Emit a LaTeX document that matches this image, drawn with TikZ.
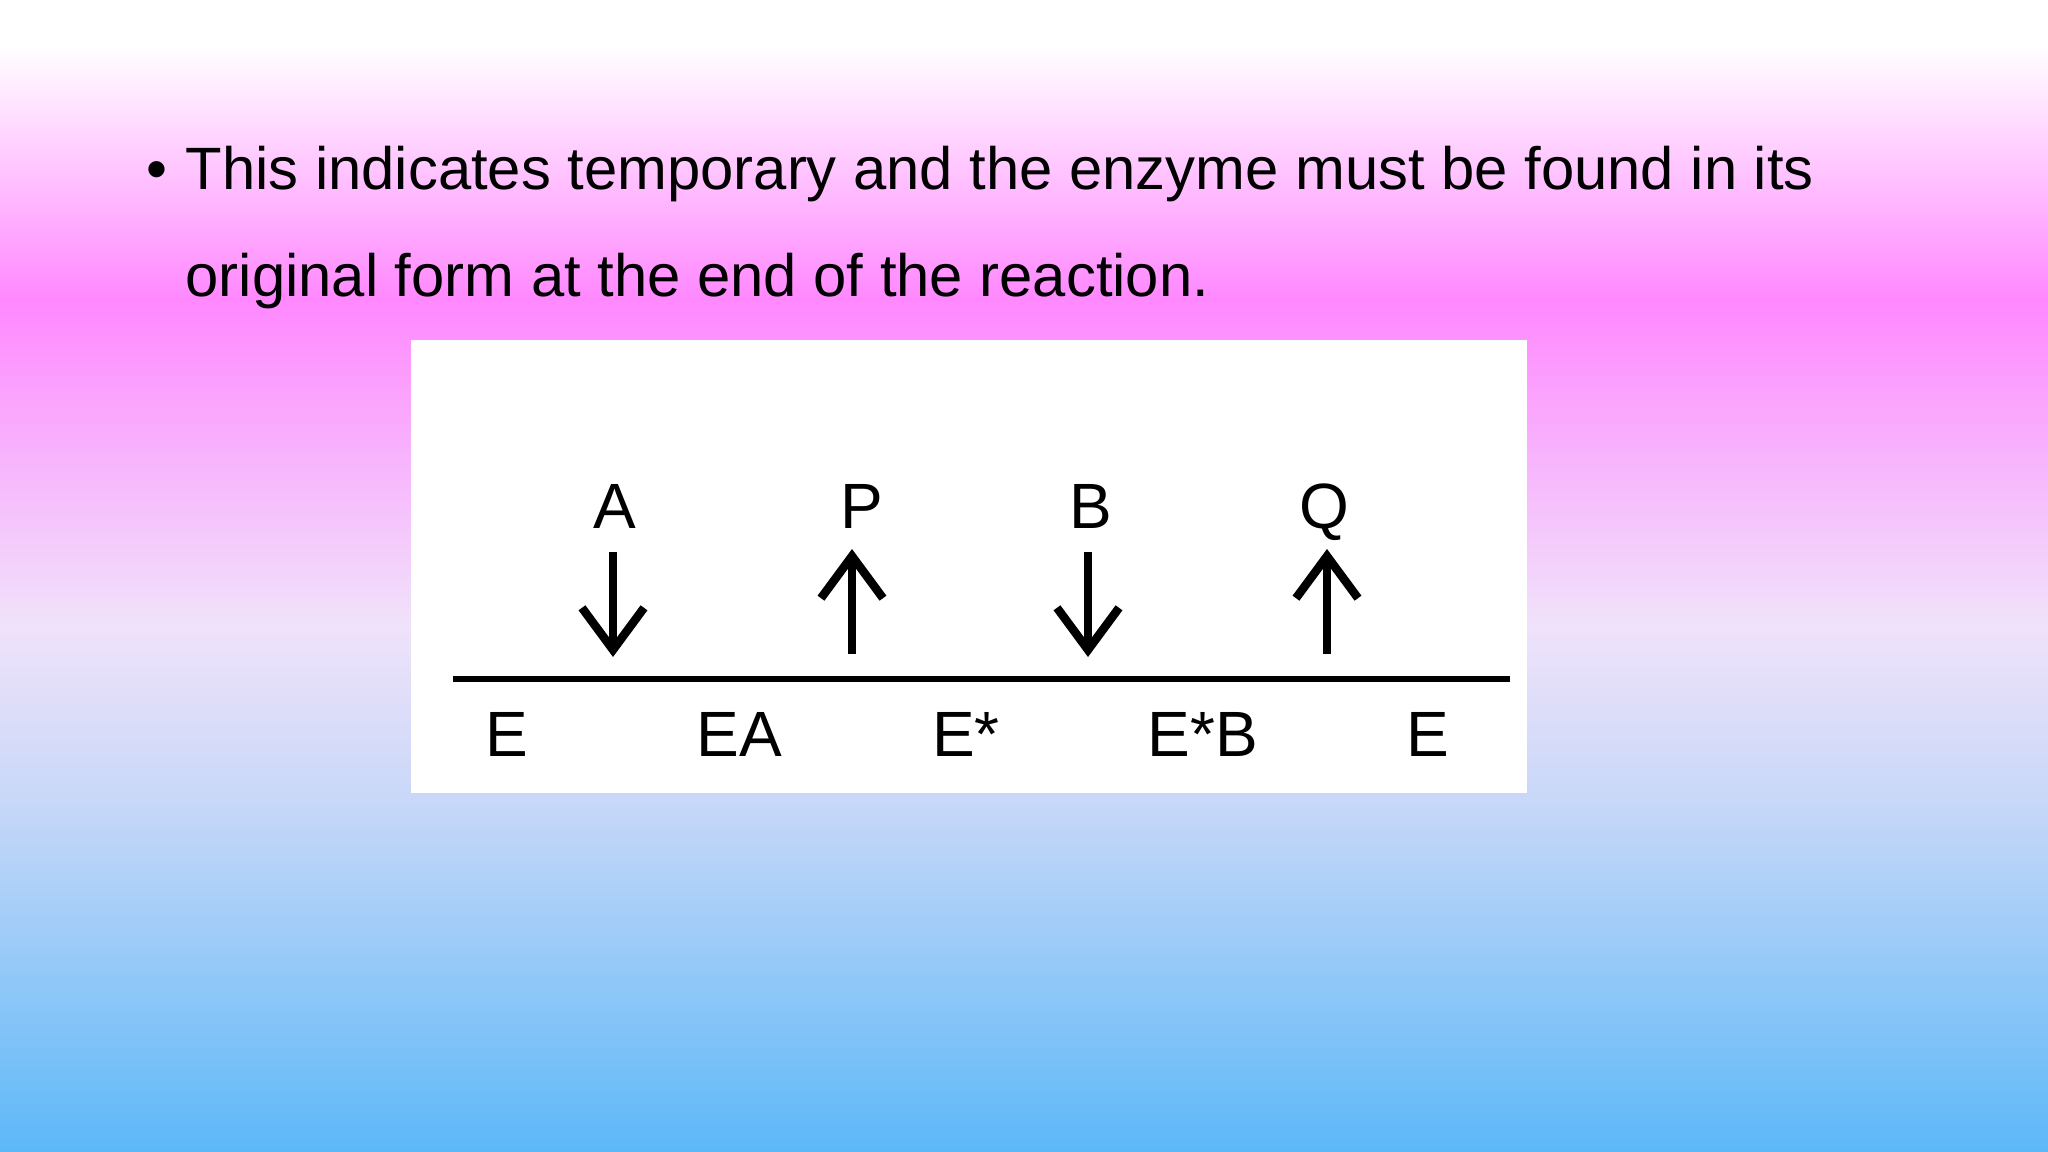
\documentclass[tikz,border=0pt]{standalone}
\usepackage{fontspec}
\setmainfont{Liberation Sans}
\usetikzlibrary{arrows.meta}
\definecolor{bgpink}{RGB}{255,136,255}
\definecolor{bglav}{RGB}{240,226,250}
\definecolor{bgpale}{RGB}{200,216,248}
\definecolor{bgblue}{RGB}{92,184,248}
\tikzset{
  slide/.style={inner sep=0pt, anchor=base west, font=\fontsize{17pt}{20pt}\selectfont},
  lbl/.style={inner sep=0pt, anchor=base, font=\fontsize{18.2pt}{20pt}\selectfont},
  rxn/.style={line width=0.085cm, -{Straight Barb[length=0.42cm,width=0.62cm]}},
}

\begin{document}
\begin{tikzpicture}[x=0.01cm,y=-0.01cm]
          %background
          \useasboundingbox (0,0) rectangle (2048,1152);
          \fill[white] (0,0) rectangle (2048,45);
          \shade[top color=white,bottom color=bgpink] (0,45) rectangle (2048,300);
          \shade[top color=bgpink,bottom color=bglav] (0,299) rectangle (2048,625);
          \shade[top color=bglav,bottom color=bgpale] (0,624) rectangle (2048,800);
          \shade[top color=bgpale,bottom color=bgblue] (0,799) rectangle (2048,1152);

          %bullet text
          \node[slide] (dot) at (146,190) {\textbullet};
          \node[slide] (line1) at (185,190) {This indicates temporary and the enzyme must be found in its};
          \node[slide] (line2) at (185,297) {original form at the end of the reaction.};

          %scheme
          \fill[white] (411,340) rectangle (1527,793);
          \coordinate (l0) at (453,679);
          \coordinate (l1) at (1510,679);
          \draw[line width=0.065cm] (l0) -- (l1);

          \node[lbl] (A) at (615,528) {A};
          \node[lbl] (P) at (862,528) {P};
          \node[lbl] (B) at (1091,528) {B};
          \node[lbl] (Q) at (1324,528) {Q};

          \draw[rxn] (613,552) coordinate (a0) -- (613,657) coordinate (a1);
          \draw[rxn] (852,654) coordinate (p0) -- (852,549) coordinate (p1);
          \draw[rxn] (1088,552) coordinate (b0) -- (1088,657) coordinate (b1);
          \draw[rxn] (1327,654) coordinate (q0) -- (1327,549) coordinate (q1);

          \node[lbl] (e0) at (507,756) {E};
          \node[lbl] (ea) at (739,756) {EA};
          \node[lbl] (es) at (966,756) {E*};
          \node[lbl] (esb) at (1203,756) {E*B};
          \node[lbl] (e1) at (1428,756) {E};
          \end{tikzpicture}
\end{document}
